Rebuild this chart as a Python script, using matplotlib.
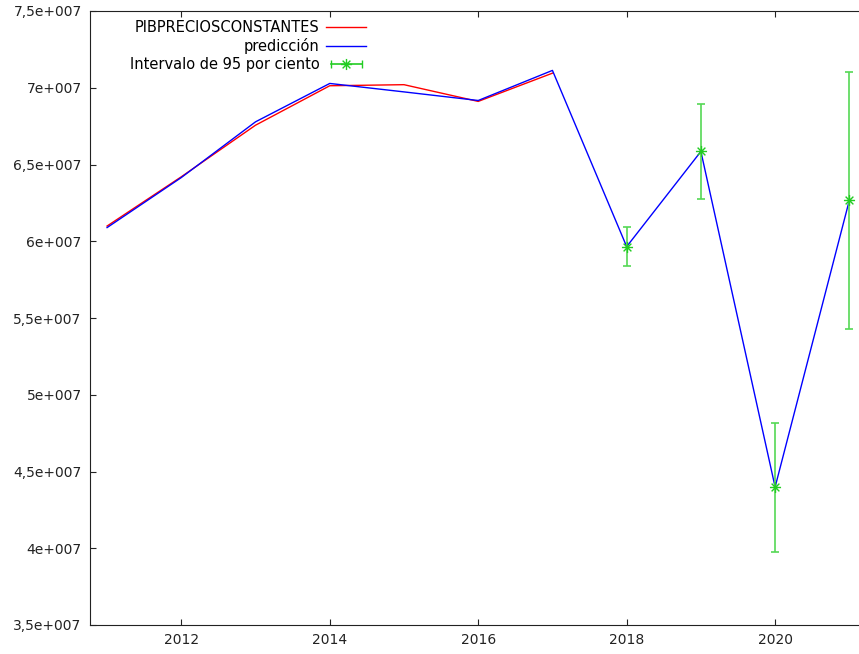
import numpy as np
import matplotlib
matplotlib.use("Agg")
import matplotlib.pyplot as plt
from matplotlib.lines import Line2D
from matplotlib.path import Path
from matplotlib.legend_handler import HandlerLine2D, HandlerTuple
from matplotlib.ticker import FuncFormatter

# observed series (PIB a precios constantes)
years_obs = [2011, 2012, 2013, 2014, 2015, 2016, 2017]
pib = [6.099e7, 6.420e7, 6.756e7, 7.013e7, 7.020e7, 6.911e7, 7.095e7]

# fitted / forecast series
years_pred = [2011, 2012, 2013, 2014, 2015, 2016, 2017, 2018, 2019, 2020, 2021]
pred = [6.089e7, 6.415e7, 6.778e7, 7.028e7, 6.973e7, 6.917e7, 7.113e7,
        5.965e7, 6.585e7, 4.399e7, 6.267e7]

# 95% interval for the forecast years
years_fc = [2018, 2019, 2020, 2021]
fc = [5.965e7, 6.585e7, 4.399e7, 6.267e7]
lower = [5.838e7, 6.278e7, 3.977e7, 5.429e7]
upper = [6.095e7, 6.891e7, 4.816e7, 7.102e7]

green = '#22cc22'
bar_green = '#55d855'

# asterisk marker (+ and x)
star = Path([(-1, 0), (1, 0), (0, -1), (0, 1),
             (-0.7, -0.7), (0.7, 0.7), (-0.7, 0.7), (0.7, -0.7)],
            [Path.MOVETO, Path.LINETO] * 4)


def fmt(v, pos):
    mant, exp = f"{v:.1e}".split("e")
    mant = mant.rstrip("0").rstrip(".").replace(".", ",")
    sign = exp[0]
    return f"{mant}e{sign}{int(exp[1:]):03d}"


plt.rcParams['font.family'] = 'DejaVu Sans'
plt.rcParams['font.size'] = 10

fig = plt.figure(figsize=(8.59, 6.54), dpi=100)
ax = fig.add_axes([90 / 859, 1 - 625 / 654, 1 - 90 / 859, (625 - 11) / 654])

ax.plot(years_obs, pib, color='#ff0000', lw=1)
ax.plot(years_pred, pred, color='#0000ff', lw=1)
err = [np.array(fc) - np.array(lower), np.array(upper) - np.array(fc)]
ax.errorbar(years_fc, fc, yerr=err, fmt='none', ecolor=bar_green,
            elinewidth=1.2, capsize=3, capthick=1.2)
ax.plot(years_fc, fc, linestyle='none', marker=star, markersize=8,
        markeredgewidth=1, color=green)

ax.set_xlim(2010.77, 2021.13)
ax.set_ylim(3.5e7, 7.5e7)
ax.set_xticks([2012, 2014, 2016, 2018, 2020])
ax.set_yticks(np.arange(3.5e7, 7.51e7, 0.5e7))
ax.yaxis.set_major_formatter(FuncFormatter(fmt))
ax.tick_params(direction='in', length=4.5, top=True, right=False,
               colors='#222222', labelcolor='#222222', pad=6)
ax.spines['right'].set_visible(False)
for s in ['left', 'top', 'bottom']:
    ax.spines[s].set_color('#222222')

# legend in gnuplot style: label on the left, sample on the right
h_red = Line2D([], [], color='#ff0000', lw=1)
h_blue = Line2D([], [], color='#0000ff', lw=1)
h_bar = Line2D([], [], color=green, lw=1.2, marker='|', markersize=6)
h_star = Line2D([], [], color=green, linestyle='none', marker=star,
                markersize=8)
leg = ax.legend([h_red, h_blue, (h_bar, h_star)],
                ['PIBPRECIOSCONSTANTES', 'predicción', 'Intervalo de 95 por ciento'],
                handler_map={h_bar: HandlerLine2D(numpoints=2),
                             tuple: HandlerTuple(ndivide=1)},
                loc='upper left', bbox_to_anchor=(0.035, 1.007),
                frameon=False, markerfirst=False, handlelength=2.75,
                handletextpad=0.45, labelspacing=0.22, numpoints=1,
                fontsize=10.5)

fig.savefig('out.png', dpi=100)
